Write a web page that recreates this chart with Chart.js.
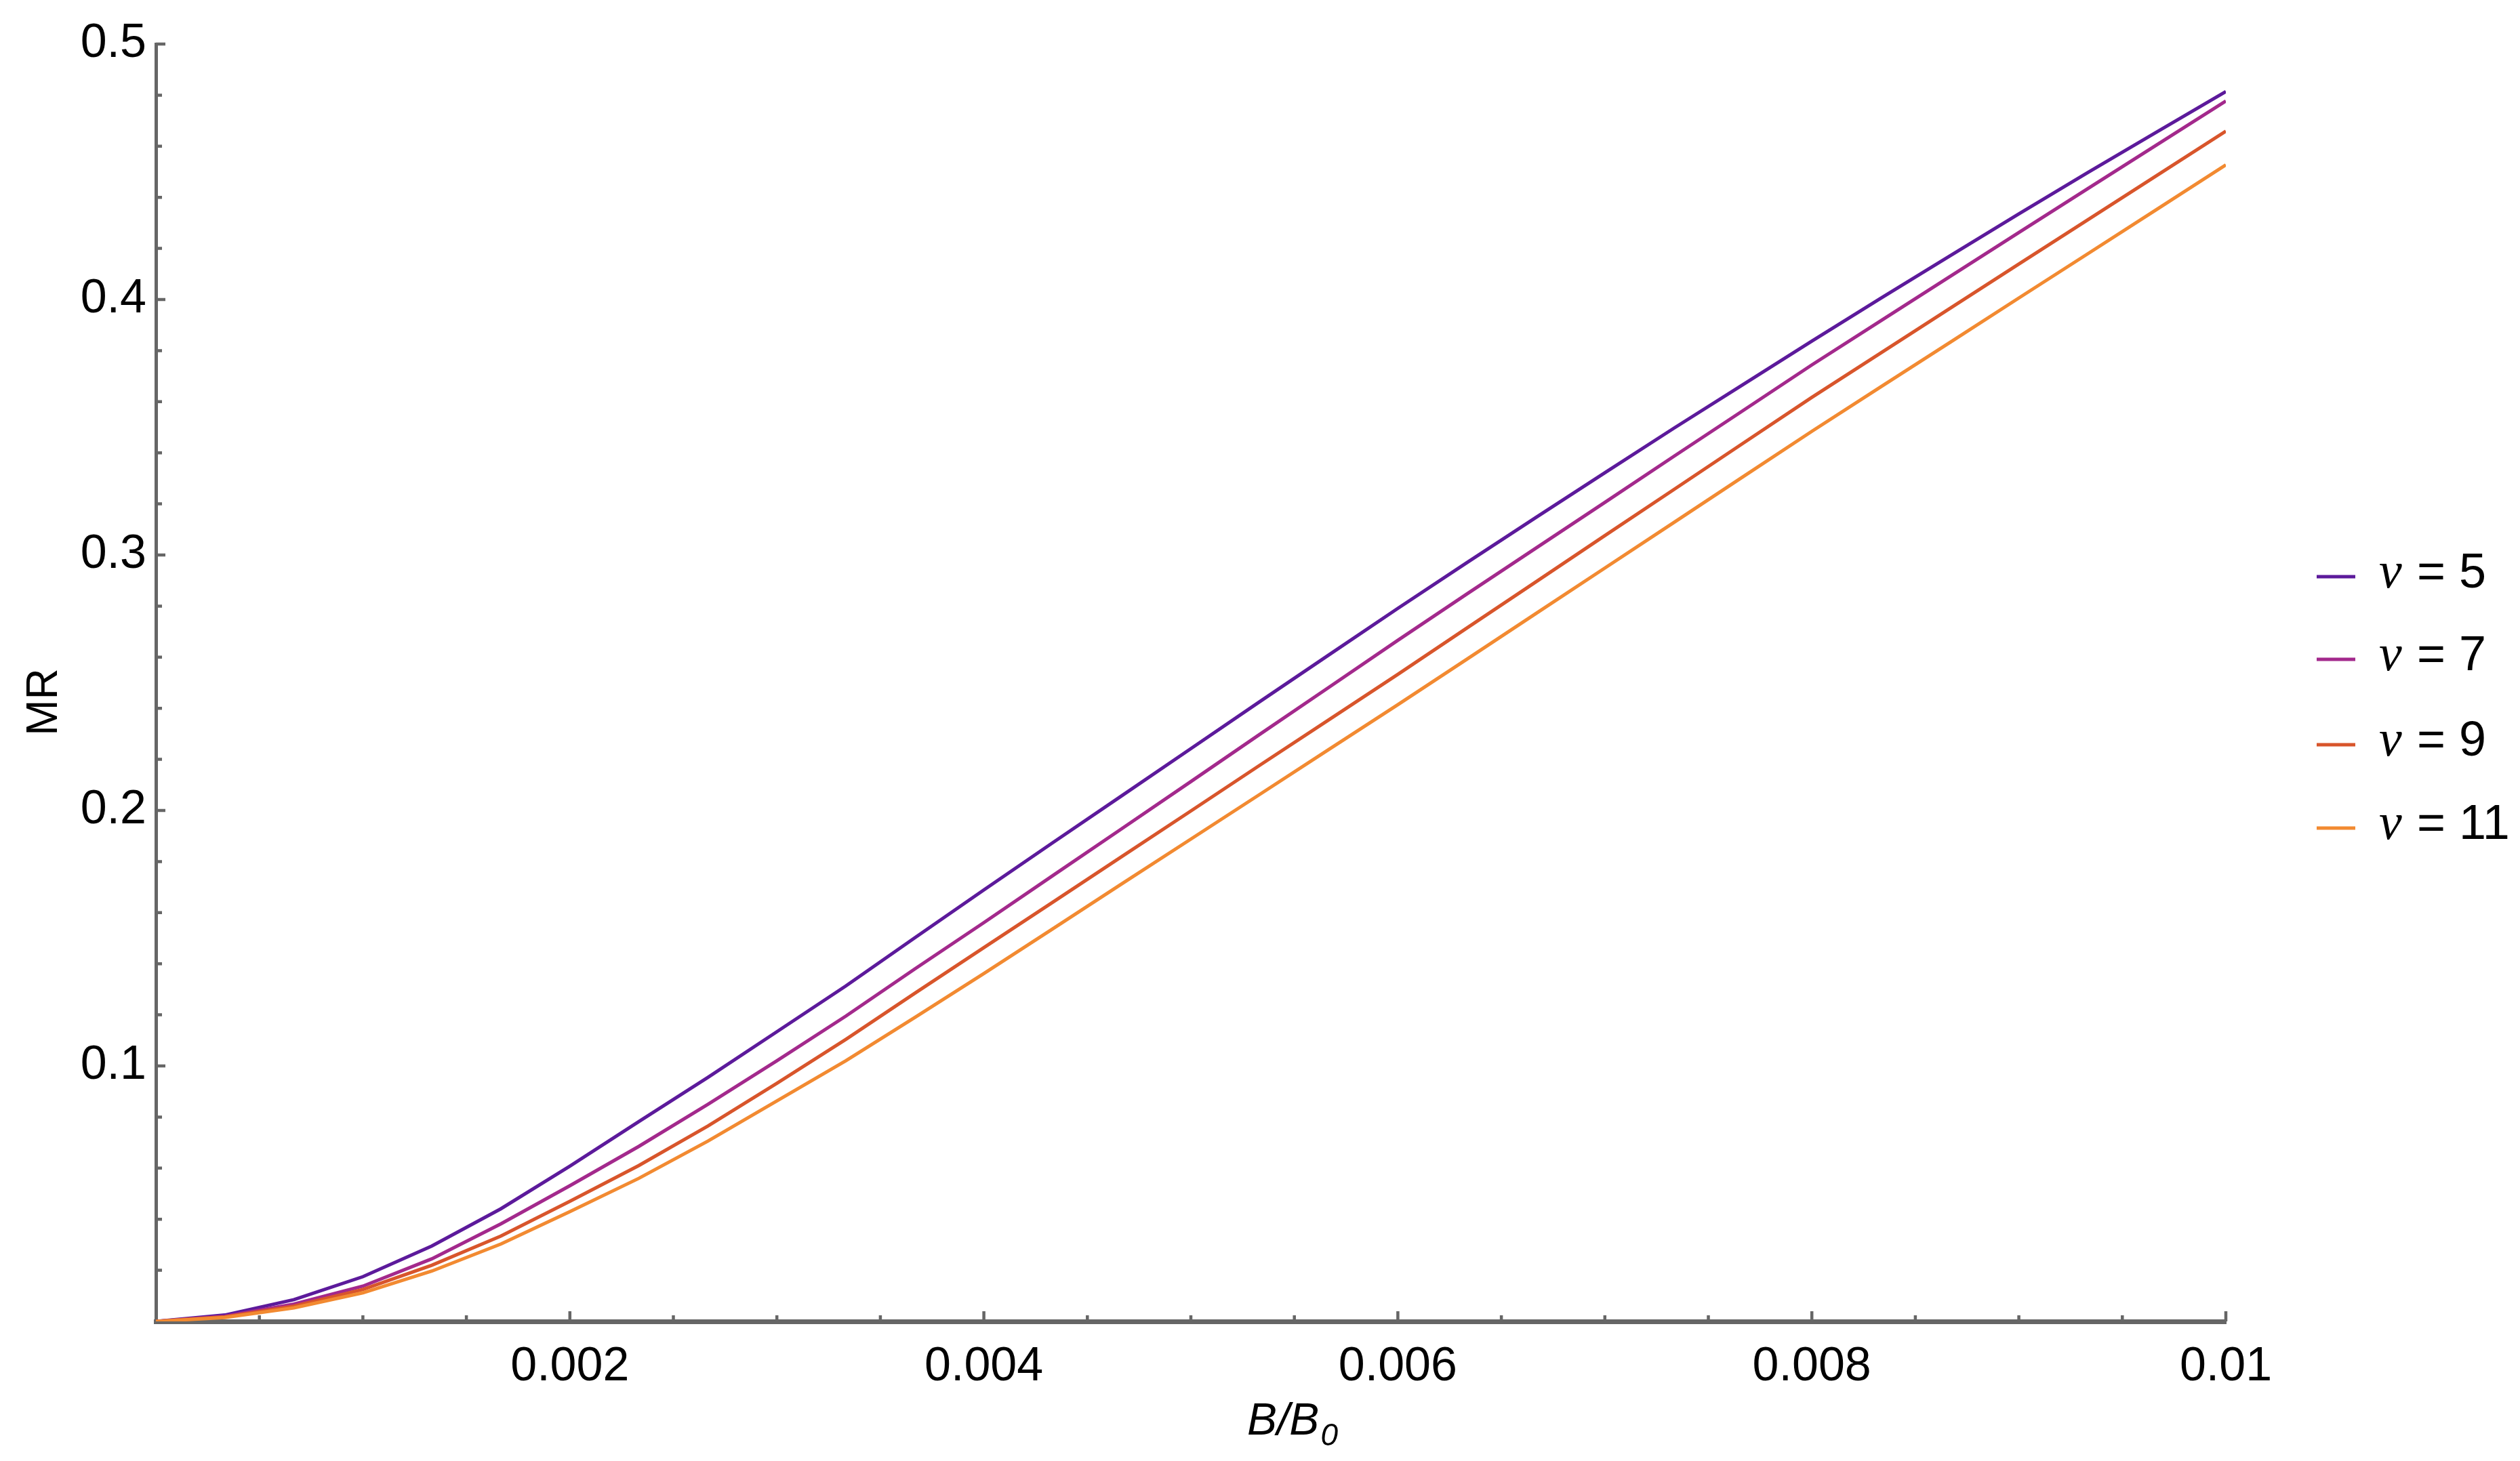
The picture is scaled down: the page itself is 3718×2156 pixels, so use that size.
<!DOCTYPE html>
<html>
<head>
<meta charset="utf-8">
<title>MR vs B/B0</title>
<script src="https://cdn.jsdelivr.net/npm/chart.js@4.4.1/dist/chart.umd.min.js"></script>
<style>
  html, body { margin: 0; padding: 0; background: #fff; }
  #wrap { width: 3718px; height: 2156px; }
</style>
</head>
<body>
<div id="wrap"><canvas id="mrChart" width="3718" height="2156"></canvas></div>
<script>
// field B/B0, sampled every 1/3000
const bField = [0, 0.000333, 0.000667, 0.001, 0.001333, 0.001667, 0.002, 0.002333, 0.002667, 0.003,
  0.003333, 0.003667, 0.004, 0.004333, 0.004667, 0.005, 0.005333, 0.005667, 0.006, 0.006333,
  0.006667, 0.007, 0.007333, 0.007667, 0.008, 0.008333, 0.008667, 0.009, 0.009333, 0.009667, 0.01];

// magnetoresistance
const mrNu5 = [0, 0.0025, 0.0085, 0.0175, 0.0295, 0.0441, 0.0608, 0.0782, 0.0955, 0.1134,
  0.1313, 0.1502, 0.1689, 0.1874, 0.2058, 0.2242, 0.2426, 0.2609, 0.2791, 0.2970,
  0.3147, 0.3322, 0.3496, 0.3667, 0.3837, 0.4005, 0.4171, 0.4335, 0.4497, 0.4656, 0.4814];
const mrNu7 = [0, 0.0020, 0.0068, 0.0138, 0.0245, 0.0382, 0.0531, 0.0685, 0.0850, 0.1020,
  0.1195, 0.1380, 0.1561, 0.1745, 0.1929, 0.2113, 0.2298, 0.2482, 0.2666, 0.2847,
  0.3027, 0.3206, 0.3386, 0.3565, 0.3744, 0.3917, 0.4090, 0.4262, 0.4434, 0.4606, 0.4777];
const mrNu9 = [0, 0.0018, 0.0060, 0.0125, 0.0220, 0.0334, 0.0470, 0.0610, 0.0765, 0.0932,
  0.1104, 0.1285, 0.1463, 0.1641, 0.1820, 0.1998, 0.2177, 0.2355, 0.2533, 0.2714,
  0.2895, 0.3076, 0.3256, 0.3437, 0.3617, 0.3791, 0.3965, 0.4139, 0.4312, 0.4486, 0.4659];
const mrNu11 = [0, 0.0015, 0.0053, 0.0112, 0.0197, 0.0303, 0.0430, 0.0560, 0.0706, 0.0863,
  0.1020, 0.1190, 0.1362, 0.1537, 0.1713, 0.1888, 0.2063, 0.2239, 0.2414, 0.2592,
  0.2771, 0.2949, 0.3127, 0.3306, 0.3484, 0.3658, 0.3832, 0.4006, 0.4179, 0.4353, 0.4527];

const nuValues = ['5', '7', '9', '11'];
const seriesColors = ['#5c1a9b', '#a3298c', '#d8552b', '#f28a31'];

const xTickValues = [0.002, 0.004, 0.006, 0.008, 0.01];
const xTickLabels = ['0.002', '0.004', '0.006', '0.008', '0.01'];
const yTickValues = [0.1, 0.2, 0.3, 0.4, 0.5];
const yTickLabels = ['0.1', '0.2', '0.3', '0.4', '0.5'];

const axisGrey = '#666666';
const sans = '"Liberation Sans", Arial, sans-serif';

function toPoints(ys) {
  return bField.map((b, i) => ({ x: b, y: ys[i] }));
}

// 눈금은 안쪽으로 (Mathematica 스타일)
const innerTicks = {
  id: 'innerTicks',
  afterDatasetsDraw(chart) {
    const { ctx, chartArea: a, scales: { x, y } } = chart;
    ctx.save();
    ctx.strokeStyle = axisGrey;
    ctx.lineWidth = 4.5;
    ctx.beginPath();
    for (let k = 1; k <= 20; k++) {
      const v = k * 0.0005;
      const major = k % 4 === 0;
      const px = x.getPixelForValue(v);
      ctx.moveTo(px, a.bottom);
      ctx.lineTo(px, a.bottom - (major ? 15 : 9));
    }
    for (let k = 1; k <= 25; k++) {
      const v = k * 0.02;
      const major = k % 5 === 0;
      const py = y.getPixelForValue(v);
      ctx.moveTo(a.left, py);
      ctx.lineTo(a.left + (major ? 14 : 9), py);
    }
    ctx.stroke();
    ctx.restore();
  }
};

// axis titles and legend
const labelsAndKey = {
  id: 'labelsAndKey',
  afterDraw(chart) {
    const { ctx } = chart;
    ctx.save();
    ctx.fillStyle = '#000';

    // y title
    ctx.save();
    ctx.translate(66, 1036);
    ctx.rotate(-Math.PI / 2);
    ctx.font = '64px ' + sans;
    ctx.textAlign = 'center';
    ctx.textBaseline = 'middle';
    ctx.fillText('MR', 0, 0);
    ctx.restore();

    // x title B/B0
    ctx.textAlign = 'left';
    ctx.textBaseline = 'alphabetic';
    ctx.font = 'italic 66px ' + sans;
    const main = 'B/B';
    ctx.fillText(main, 1840, 2117);
    const w = ctx.measureText(main).width;
    ctx.font = 'italic 46px ' + sans;
    ctx.fillText('0', 1840 + w + 2, 2133);

    // legend
    const lineY = [851, 973, 1099, 1222];
    chart.data.datasets.forEach((ds, i) => {
      const ly = lineY[i];
      ctx.strokeStyle = ds.borderColor;
      ctx.lineWidth = 5;
      ctx.beginPath();
      ctx.moveTo(3418, ly);
      ctx.lineTo(3475, ly);
      ctx.stroke();
      ctx.fillStyle = '#000';
      ctx.font = 'italic 76px "Liberation Serif", serif';
      ctx.fillText('\u03bd', 3510, ly + 16);
      ctx.font = '72px ' + sans;
      ctx.fillText('=', 3566, ly + 16);
      ctx.fillText(nuValues[i], 3628, ly + 16);
    });
    ctx.restore();
  }
};

const ctx = document.getElementById('mrChart').getContext('2d');
const chart = new Chart(ctx, {
  type: 'line',
  data: {
    datasets: [
      { label: '\u03bd = ' + nuValues[0], data: toPoints(mrNu5), borderColor: seriesColors[0], order: 3 },
      { label: '\u03bd = ' + nuValues[1], data: toPoints(mrNu7), borderColor: seriesColors[1], order: 2 },
      { label: '\u03bd = ' + nuValues[2], data: toPoints(mrNu9), borderColor: seriesColors[2], order: 1 },
      { label: '\u03bd = ' + nuValues[3], data: toPoints(mrNu11), borderColor: seriesColors[3], order: 0 }
    ]
  },
  options: {
    responsive: false,
    animation: false,
    devicePixelRatio: 1,
    elements: {
      line: { borderWidth: 5, tension: 0, fill: false },
      point: { radius: 0 }
    },
    layout: { padding: { top: 65, right: 434, left: 0, bottom: 0 } },
    plugins: {
      legend: { display: false },
      tooltip: { enabled: false }
    },
    scales: {
      x: {
        type: 'linear',
        min: 0,
        max: 0.01,
        afterFit(scale) { scale.height = 206; },
        afterBuildTicks(scale) { scale.ticks = xTickValues.map(v => ({ value: v })); },
        grid: { display: false, drawTicks: false },
        border: { display: true, color: axisGrey, width: 7 },
        ticks: {
          padding: 26,
          maxRotation: 0,
          autoSkip: false,
          color: '#000',
          font: { family: sans, size: 70 },
          callback: (v, i) => xTickLabels[i]
        }
      },
      y: {
        type: 'linear',
        min: 0,
        max: 0.5,
        afterFit(scale) { scale.width = 230; },
        afterBuildTicks(scale) { scale.ticks = yTickValues.map(v => ({ value: v })); },
        grid: { display: false, drawTicks: false },
        border: { display: true, color: axisGrey, width: 5 },
        ticks: {
          padding: 14,
          autoSkip: false,
          color: '#000',
          font: { family: sans, size: 70 },
          callback: (v, i) => yTickLabels[i]
        }
      }
    }
  },
  plugins: [innerTicks, labelsAndKey]
});
</script>
</body>
</html>
